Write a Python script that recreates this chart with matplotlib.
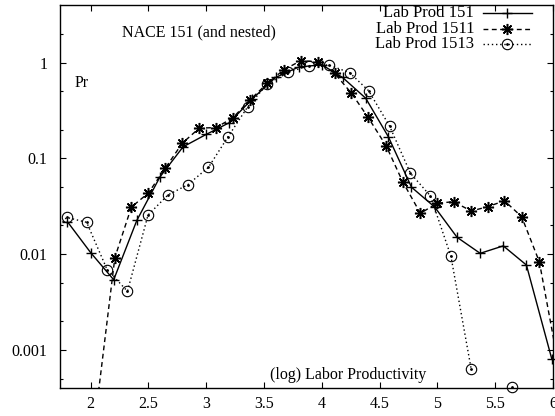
import numpy as np
import matplotlib.pyplot as plt
from matplotlib.ticker import LogLocator, FixedLocator, FixedFormatter, NullFormatter

plt.rcParams['font.family'] = ['Liberation Serif', 'DejaVu Serif']
plt.rcParams['font.size'] = 11.5

# labour productivity distributions (nan = empty bin, breaks the line)
x_151 = [1.80, 2.00, 2.20, 2.40, 2.60, 2.80, 3.00, 3.20, 3.40, 3.60, 3.80, 4.00,
         4.18, 4.38, 4.575, 4.776, 4.977, 5.17, 5.37, 5.57, 5.77, 5.99]
y_151 = [0.0218, 0.0104, 0.0054, 0.0225, 0.064, 0.132, 0.178, 0.236, 0.42, 0.70, 0.90, 0.95,
         0.70, 0.425, 0.169, 0.050, 0.031, 0.015, 0.0102, 0.0122, 0.0077, 0.0008]

x_1511 = [2.06, 2.21, 2.353, 2.50, 2.646, 2.793, 2.94, 3.086, 3.23, 3.379, 3.53, 3.67, 3.82, 3.97,
          4.11, 4.257, 4.40, 4.557, 4.70, 4.853, 4.997, 5.14, 5.293, 5.436, 5.58, 5.729, 5.882, 6.03]
y_1511 = [0.0003, 0.0092, 0.031, 0.0435, 0.079, 0.144, 0.207, 0.21, 0.265, 0.408, 0.61, 0.84, 1.05, 1.02,
          0.775, 0.479, 0.269, 0.135, 0.057, 0.0267, 0.034, 0.0353, 0.0282, 0.0313, 0.0361, 0.0246, 0.0083, 0.0009]

x_1513 = [1.62, 1.793, 1.966, 2.143, 2.319, 2.497, 2.669, 2.84, 3.02, 3.19, 3.36, 3.53, 3.71, 3.887,
          4.06, 4.24, 4.405, 4.586, 4.767, 4.94, 5.117, 5.293, 5.47, 5.643, 5.82]
y_1513 = [0.0136, 0.0242, 0.0215, 0.0069, 0.0041, 0.0256, 0.0415, 0.053, 0.0807, 0.169, 0.347, 0.60, 0.79, 0.93,
          0.946, 0.787, 0.509, 0.218, 0.0699, 0.0405, 0.0095, 0.000625, np.nan, 0.00041, np.nan]

xmin, xmax = 1.735, 6.0
ymin, ymax = 0.0004, 4.0

fig = plt.figure(figsize=(5.55, 4.16), dpi=100)
ax = fig.add_axes([0.108, 0.0673, 0.8884, 0.9207])

styles = [
    ("Lab Prod 151", x_151, y_151, '-', dict(marker='+', markersize=7, markeredgewidth=1.0)),
    ("Lab Prod 1511", x_1511, y_1511, (0, (3.5, 2.5)), dict(marker=(8, 2, 0), markersize=8, markeredgewidth=1.1)),
    ("Lab Prod 1513", x_1513, y_1513, (0, (1, 2)), dict(marker='o', markersize=7.5, markeredgewidth=0.8,
                                                        markerfacecolor='none')),
]

leg_y = [0.978, 0.937, 0.897]
for i, (label, xs, ys, ls, mk) in enumerate(styles):
    xs = np.array(xs)
    ys = np.array(ys, dtype=float)
    ax.plot(xs, ys, color='black', linestyle=ls, linewidth=1.0)
    # markers are drawn unclipped, like gnuplot points sitting on the border
    ok = (xs >= xmin) & (xs <= xmax) & (ys >= ymin * 0.95)
    ax.plot(xs[ok], ys[ok], color='black', linestyle='none', clip_on=False, **mk)
    if mk['marker'] == 'o':
        ax.plot(xs[ok], ys[ok], color='black', linestyle='none', marker='.', markersize=2, clip_on=False)

    # key entry, right-aligned text followed by a line sample
    ax.text(0.8398, leg_y[i], label, transform=ax.transAxes, ha='right', va='center', fontsize=12)
    ax.plot([0.858, 0.957], [leg_y[i]] * 2, transform=ax.transAxes, color='black',
            linestyle=ls, linewidth=1.0, clip_on=False)
    ax.plot([0.9075], [leg_y[i]], transform=ax.transAxes, color='black', linestyle='none',
            clip_on=False, **mk)
    if mk['marker'] == 'o':
        ax.plot([0.9075], [leg_y[i]], transform=ax.transAxes, color='black', linestyle='none',
                marker='.', markersize=2, clip_on=False)

ax.set_yscale('log')
ax.set_xlim(xmin, xmax)
ax.set_ylim(ymin, ymax)

ax.xaxis.set_major_locator(FixedLocator([2, 2.5, 3, 3.5, 4, 4.5, 5, 5.5, 6]))
ax.xaxis.set_major_formatter(FixedFormatter(['2', '2.5', '3', '3.5', '4', '4.5', '5', '5.5', '6']))
ax.yaxis.set_major_locator(FixedLocator([0.001, 0.01, 0.1, 1]))
ax.yaxis.set_major_formatter(FixedFormatter(['0.001', '0.01', '0.1', '1']))
ax.yaxis.set_minor_locator(LogLocator(base=10, subs=(2.0, 5.0)))
ax.yaxis.set_minor_formatter(NullFormatter())

ax.tick_params(axis='both', which='both', direction='in', top=True, right=True, width=0.8)
ax.tick_params(axis='both', which='major', length=4.5)
ax.tick_params(axis='both', which='minor', length=2.5)
ax.tick_params(axis='x', pad=6)
ax.tick_params(axis='y', pad=9)
for s in ax.spines.values():
    s.set_linewidth(1.0)

ax.text(0.126, 0.9295, "NACE 151 (and nested)", transform=ax.transAxes, ha='left', va='center')
ax.text(0.0304, 0.796, "Pr", transform=ax.transAxes, ha='left', va='center')
ax.text(0.426, 0.034, "(log) Labor Productivity", transform=ax.transAxes, ha='left', va='center')

fig.savefig('out.png', dpi=100)
